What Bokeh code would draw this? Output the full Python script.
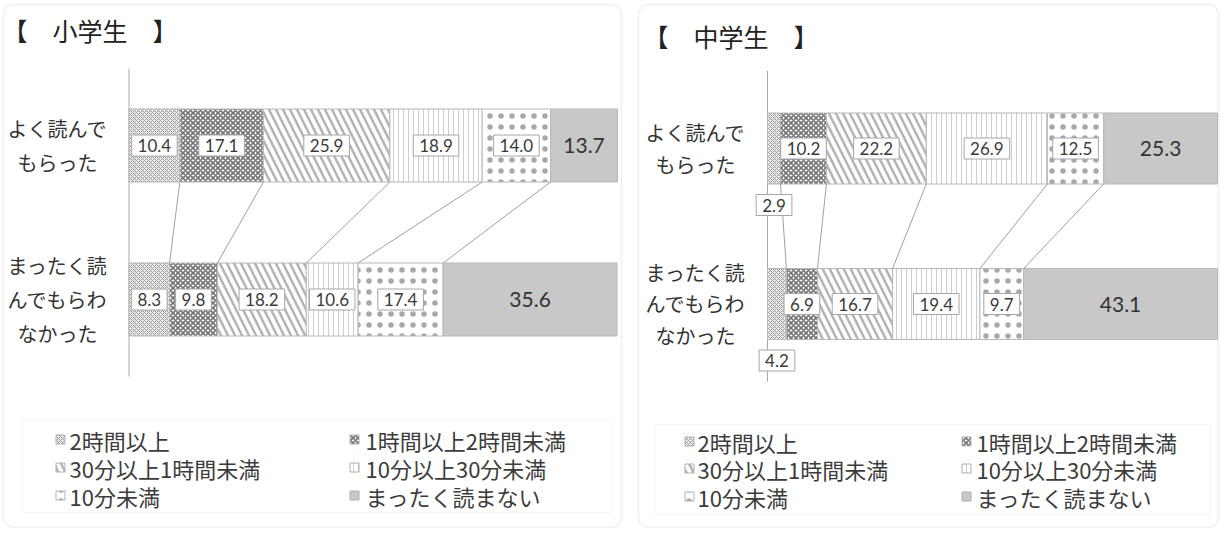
import numpy as np
from bokeh.plotting import figure
from bokeh.layouts import row
from bokeh.models import Range1d, BoxAnnotation, ColumnDataSource
from bokeh.core.properties import value
from bokeh.embed import file_html
from bokeh.resources import INLINE

# ---------------- data ----------------
categories = ["2時間以上", "1時間以上2時間未満", "30分以上1時間未満",
              "10分以上30分未満", "10分未満", "まったく読まない"]
groups = ["よく読んで\nもらった", "まったく読\nんでもらわ\nなかった"]
titles = ["【　小学生　】", "【　中学生　】"]

elem_well = [10.4, 17.1, 25.9, 18.9, 14.0, 13.7]
elem_never = [8.3, 9.8, 18.2, 10.6, 17.4, 35.6]
junior_well = [2.9, 10.2, 22.2, 26.9, 12.5, 25.3]
junior_never = [4.2, 6.9, 16.7, 19.4, 9.7, 43.1]

# ---------------- styles ----------------
STYLES = [
    dict(fill_color="#ececec", hatch_pattern="diagonal_cross", hatch_color="#9a9a9a",
         hatch_scale=4, hatch_weight=1),
    dict(fill_color="white", hatch_pattern="diagonal_cross", hatch_color="#747474",
         hatch_scale=5, hatch_weight=1.6),
    dict(fill_color="white", hatch_pattern="left_diagonal_line", hatch_color="#b4b4b4",
         hatch_scale=14, hatch_weight=2.5),
    dict(fill_color="white", hatch_pattern="vertical_line", hatch_color="#cdcdcd",
         hatch_scale=5, hatch_weight=1),
    dict(fill_color="white", hatch_pattern="dot", hatch_color="#a8a8a8",
         hatch_scale=11, hatch_weight=0.5),
    dict(fill_color="#c8c8c8"),
]

H = 530
PANELS = [
    dict(fig_left=0, width=628, zero=128.5, hundred=617, top_c=145, bot_c=299, bar_px=73,
         title_x=2, title_y=29, cat_x=57, cat_lh=1.18,
         border=(3, 621, 4, 527), legend_box=(22, 612, 420, 512),
         marker_x=(60, 354), text_x=(69, 365), rows=(439, 467, 495)),
    dict(fig_left=628, width=592, zero=767, hundred=1217, top_c=148, bot_c=303.5, bar_px=71,
         title_x=643, title_y=35, cat_x=695, cat_lh=1.1,
         border=(638, 1218, 4, 527), legend_box=(655, 1210, 424, 514),
         marker_x=(689, 966), text_x=(697, 976), rows=(441, 468, 496)),
]

JP = value("Noto Sans CJK JP")
NUM = value("Lato")


def build_panel(title, well, never, cfg):
    sx = (cfg["hundred"] - cfg["zero"]) / 100.0
    sy = cfg["bot_c"] - cfg["top_c"]

    def X(px):
        return (px - cfg["zero"]) / sx

    def Y(py):
        return 1 - (py - cfg["top_c"]) / sy

    p = figure(width=cfg["width"], height=H,
               x_range=Range1d(X(cfg["fig_left"]), X(cfg["fig_left"] + cfg["width"])),
               y_range=Range1d(Y(H), Y(0)),
               x_axis_location=None, y_axis_location=None,
               output_backend="svg", toolbar_location=None, min_border=0)
    p.grid.visible = False
    p.outline_line_color = None
    p.background_fill_color = "white"
    p.border_fill_color = "white"

    ypos = [1, 0]
    bh = cfg["bar_px"] / sy
    vals = np.array([well, never])
    ends = np.cumsum(vals, axis=1)
    starts = ends - vals

    # vertical category axis line
    p.segment(x0=[0], y0=[-0.5], x1=[0], y1=[len(groups) - 0.5],
              line_color="#a8a8a8", line_width=1)

    # stacked bars
    for k in range(len(categories)):
        src = ColumnDataSource(dict(y=ypos, left=starts[:, k], right=ends[:, k]))
        p.hbar(y="y", left="left", right="right", height=bh, source=src,
               line_color="#b8b8b8", line_width=1, **STYLES[k])

    # series lines
    n = len(categories) - 1
    p.segment(x0=ends[0, :n], y0=[1 - bh / 2] * n, x1=ends[1, :n], y1=[bh / 2] * n,
              line_color="#a0a0a0", line_width=1)

    # boxed value labels
    bx, by, bt = [], [], []
    for g in range(2):
        for k in range(n):
            v = vals[g, k]
            bx.append((starts[g, k] + ends[g, k]) / 2)
            if v < 5:
                by.append(ypos[g] - bh / 2 - 21 / sy)
            else:
                by.append(ypos[g])
            bt.append(f"{v:.1f}")
    p.text(x=bx, y=by, text=bt, text_font=NUM, text_font_size="17px",
           text_color="#3a3a3a", text_align="center", text_baseline="middle",
           background_fill_color="white", border_line_color="#a6a6a6",
           border_line_width=1, padding=dict(left=6, right=6, top=4, bottom=4))

    # big labels for last segment
    p.text(x=list((starts[:, n] + ends[:, n]) / 2), y=ypos,
           text=[f"{v:.1f}" for v in vals[:, n]], text_font=NUM, text_font_size="21px",
           text_color="#333333", text_align="center", text_baseline="middle")

    # category labels
    p.text(x=[X(cfg["cat_x"])] * 2, y=ypos, text=groups, text_font=JP,
           text_font_size="20px", text_color="#333333", text_align="center",
           text_baseline="middle", text_line_height=cfg["cat_lh"])

    # title
    p.text(x=[X(cfg["title_x"])], y=[Y(cfg["title_y"])], text=[title], text_font=JP,
           text_font_size="25px", text_color="#222222", text_align="left",
           text_baseline="middle")

    # legend
    lb = cfg["legend_box"]
    p.add_layout(BoxAnnotation(left=X(lb[0]), right=X(lb[1]), top=Y(lb[2]), bottom=Y(lb[3]),
                               fill_alpha=0, line_color="#e2e2e2", line_width=1.2))
    for i, cat in enumerate(categories):
        col, r = i % 2, i // 2
        p.rect(x=[X(cfg["marker_x"][col])], y=[Y(cfg["rows"][r])], width=9, height=9,
               width_units="screen", height_units="screen", line_color="#b0b0b0",
               line_width=1, **STYLES[i])
        p.text(x=[X(cfg["text_x"][col])], y=[Y(cfg["rows"][r])], text=[cat], text_font=JP,
               text_font_size="22px", text_color="#3c3c3c", text_align="left",
               text_baseline="middle")

    # panel border
    b = cfg["border"]
    p.add_layout(BoxAnnotation(left=X(b[0]), right=X(b[1]), top=Y(b[2]), bottom=Y(b[3]),
                               fill_alpha=0, line_color="#d2d2d2", line_width=1.5,
                               border_radius=10))
    return p


p1 = build_panel(titles[0], elem_well, elem_never, PANELS[0])
p2 = build_panel(titles[1], junior_well, junior_never, PANELS[1])
layout = row(p1, p2)

open("out.html", "w").write(file_html(layout, INLINE))
